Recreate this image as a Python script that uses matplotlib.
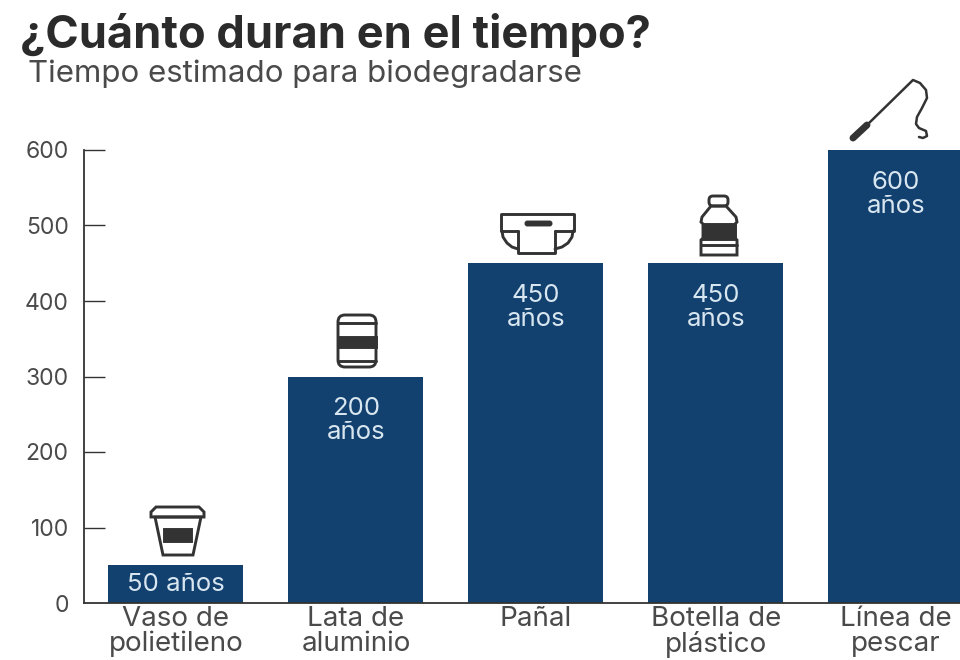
import matplotlib
matplotlib.use("Agg")
import matplotlib.pyplot as plt
from matplotlib.patches import FancyBboxPatch, Polygon, Rectangle

categories = ["Vaso de\npolietileno", "Lata de\naluminio", "Pañal", "Botella de\nplástico", "Línea de\npescar"]
values = [50, 300, 450, 450, 600]
labels = ["50 años", "200\naños", "450\naños", "450\naños", "600\naños"]
yticks = [0, 100, 200, 300, 400, 500, 600]

NAVY = "#12406f"
LIGHT = "#d8e6f0"
DARK = "#333333"
GREY = "#4a4a4a"

plt.rcParams["font.family"] = ["Inter", "Liberation Sans", "DejaVu Sans"]

W, H = 960, 660
fig = plt.figure(figsize=(9.6, 6.6), dpi=100)
ax = fig.add_axes([84 / W, 1 - 603 / H, (W - 84) / W, 453 / H])

xpos = list(range(len(values)))
ax.bar(xpos, values, width=0.75, color=NAVY, zorder=2)
ax.set_xlim(-0.511, 4.356)
ax.set_ylim(0, 600)

for s in ["top", "right"]:
    ax.spines[s].set_visible(False)
for s in ["left", "bottom"]:
    ax.spines[s].set_color(DARK)
    ax.spines[s].set_linewidth(1.3)
    ax.spines[s].set_zorder(3)

ax.set_yticks(yticks)
ax.tick_params(axis="y", direction="in", length=15, width=1, color=DARK,
               labelsize=16.5, labelcolor=GREY, pad=11)
ax.set_xticks(xpos)
ax.set_xticklabels(categories, fontsize=20, color=GREY, linespacing=0.95)
ax.tick_params(axis="x", length=0, pad=2)
ax.yaxis.get_major_ticks()[0].tick1line.set_visible(False)

for x, v, lab in zip(xpos, values, labels):
    two_lines = "\n" in lab
    ax.annotate(lab, (x, v), xytext=(0, -32 if two_lines else -14),
                textcoords="offset points", ha="center", va="center",
                color=LIGHT, fontsize=18.5, linespacing=1.05, zorder=4)

fig.text(20 / W, 1 - 35 / H, "¿Cuánto duran en el tiempo?", fontsize=32.5, fontweight="bold",
         color="#2b2b2b", ha="left", va="center")
fig.text(28 / W, 1 - 74 / H, "Tiempo estimado para biodegradarse", fontsize=22.5,
         color=GREY, ha="left", va="center")

# icons, drawn in pixel coordinates of the picture
ov = fig.add_axes([0, 0, 1, 1], zorder=5)
ov.set_xlim(0, W)
ov.set_ylim(H, 0)
ov.axis("off")
ic = "#333333"
lw = 2.1


def box(x0, y0, x1, y1, r=0, fill="none"):
    if r:
        ov.add_patch(FancyBboxPatch((x0 + r, y0 + r), x1 - x0 - 2 * r, y1 - y0 - 2 * r,
                                    boxstyle=f"round,pad={r}", fc=fill, ec=ic, lw=lw))
    else:
        ov.add_patch(Rectangle((x0, y0), x1 - x0, y1 - y0, fc=fill, ec=ic, lw=lw))


def line(xs, ys, width=lw):
    ov.plot(xs, ys, color=ic, lw=width, solid_capstyle="round", solid_joinstyle="round")


# cup
ov.add_patch(Polygon([(155, 517), (163, 555), (193, 555), (201, 517)], closed=True, fc="none", ec=ic, lw=lw))
ov.add_patch(Polygon([(151, 517), (151, 512), (156, 507), (199, 507), (204, 512), (204, 517)],
                     closed=True, fc="none", ec=ic, lw=lw))
box(164, 529, 191, 541, fill=ic)

# can
box(338, 315, 376, 367, r=7)
line([338, 376], [323, 323])
line([338, 376], [361, 361])
box(338, 337, 376, 347, fill=ic)

# diaper
line([518, 501, 501, 574, 574, 555], [231, 231, 214, 214, 231, 231])
line([518, 518, 555, 555], [231, 253, 253, 231])
line([502, 503, 507, 512, 518], [231, 237, 243, 247, 249])
line([573, 572, 568, 562, 555], [231, 237, 243, 247, 249])
box(526, 222, 551, 225, r=1.4, fill=ic)

# bottle
box(709, 196, 728, 206, r=4)
ov.add_patch(Polygon([(711, 206), (702, 217), (701, 222), (703, 224), (703, 238), (701, 240), (701, 255),
                      (737, 255), (737, 240), (735, 238), (735, 224), (737, 222), (736, 217), (726, 206)],
                     closed=True, fc="none", ec=ic, lw=lw))
box(703, 224, 735, 239, fill=ic)
line([701, 737], [245, 245])

# fishing rod
line([853, 867], [138, 125], width=5)
line([867, 913, 920, 926, 927, 922, 917, 916, 919, 926, 927, 923, 919],
     [125, 80, 83, 90, 98, 108, 117, 124, 128, 131, 136, 138, 137], width=1.8)

fig.savefig("out.png", dpi=100)
